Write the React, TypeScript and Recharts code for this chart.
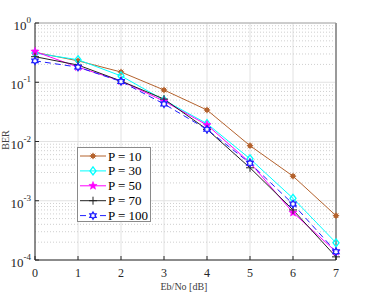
import React from "react";
import {
  LineChart,
  Line,
  XAxis,
  YAxis,
  CartesianGrid,
  ReferenceLine,
  Legend,
} from "recharts";

// Eb/No in dB
const ebno: number[] = [0, 1, 2, 3, 4, 5, 6, 7];

// BER curves
const berP10: number[] = [0.32, 0.23, 0.149, 0.074, 0.034, 0.0085, 0.0026, 0.00056];
const berP30: number[] = [0.31, 0.24, 0.128, 0.05, 0.02, 0.0051, 0.0011, 0.000195];
const berP50: number[] = [0.33, 0.18, 0.105, 0.048, 0.019, 0.0044, 0.00063, 0.000138];
const berP70: number[] = [0.27, 0.195, 0.105, 0.052, 0.016, 0.0036, 0.0007, 0.000113];
const berP100: number[] = [0.23, 0.18, 0.103, 0.043, 0.016, 0.0043, 0.00088, 0.000138];

const xTicks: number[] = [0, 1, 2, 3, 4, 5, 6, 7];
const yTicks: number[] = [1e-4, 1e-3, 1e-2, 1e-1, 1];

const minorTicks: number[] = [];
for (let d = -4; d < 0; d++) {
  for (let m = 2; m <= 9; m++) minorTicks.push(m * Math.pow(10, d));
}

const data = ebno.map((x, i) => ({
  x,
  p10: berP10[i],
  p30: berP30[i],
  p50: berP50[i],
  p70: berP70[i],
  p100: berP100[i],
}));

type Kind = "asterisk" | "diamond" | "pentagram" | "plus" | "hexagram";

const series: { key: string; name: string; color: string; kind: Kind; dash?: string }[] = [
  { key: "p10", name: "P = 10", color: "#b4622d", kind: "asterisk" },
  { key: "p30", name: "P = 30", color: "#00ffff", kind: "diamond" },
  { key: "p50", name: "P = 50", color: "#ff00ff", kind: "pentagram" },
  { key: "p70", name: "P = 70", color: "#222222", kind: "plus" },
  { key: "p100", name: "P = 100", color: "#1f1fff", kind: "hexagram", dash: "6 4" },
];

const serif = { fontFamily: "'Liberation Serif', 'Times New Roman', Times, serif" };

function starPoints(cx: number, cy: number, n: number, ro: number, ri: number) {
  const pts: string[] = [];
  for (let i = 0; i < n * 2; i++) {
    const r = i % 2 === 0 ? ro : ri;
    const a = -Math.PI / 2 + (i * Math.PI) / n;
    pts.push(`${cx + r * Math.cos(a)},${cy + r * Math.sin(a)}`);
  }
  return pts.join(" ");
}

function Marker({ cx, cy, color, kind }: { cx: number; cy: number; color: string; kind: Kind }) {
  if (cx == null || cy == null || isNaN(cx) || isNaN(cy)) return null;
  switch (kind) {
    case "asterisk":
      return (
        <g stroke={color} strokeWidth={1}>
          <circle cx={cx} cy={cy} r={2} fill={color} />
          <line x1={cx - 3.2} y1={cy} x2={cx + 3.2} y2={cy} />
          <line x1={cx} y1={cy - 3.2} x2={cx} y2={cy + 3.2} />
          <line x1={cx - 2.3} y1={cy - 2.3} x2={cx + 2.3} y2={cy + 2.3} />
          <line x1={cx - 2.3} y1={cy + 2.3} x2={cx + 2.3} y2={cy - 2.3} />
        </g>
      );
    case "diamond":
      return (
        <polygon
          points={`${cx},${cy - 4} ${cx + 3},${cy} ${cx},${cy + 4} ${cx - 3},${cy}`}
          fill="none"
          stroke={color}
          strokeWidth={1.3}
        />
      );
    case "pentagram":
      return <polygon points={starPoints(cx, cy, 5, 4.3, 1.8)} fill={color} stroke={color} strokeWidth={0.6} />;
    case "plus":
      return (
        <g stroke={color} strokeWidth={1}>
          <line x1={cx - 4} y1={cy} x2={cx + 4} y2={cy} />
          <line x1={cx} y1={cy - 4} x2={cx} y2={cy + 4} />
        </g>
      );
    case "hexagram":
      return <polygon points={starPoints(cx, cy, 6, 3.6, 2.1)} fill="#ffffff" stroke={color} strokeWidth={1.3} />;
  }
  return null;
}

function YTick(props: any) {
  const { x, y, payload } = props;
  const exp = Math.round(Math.log10(payload.value));
  return (
    <g>
      <line x1={x} y1={y} x2={x + 4} y2={y} stroke="#262626" />
      <text x={x - 4} y={y + 7} textAnchor="end" style={serif} fontSize={13} fill="#262626">
        10
        <tspan dy={-7} fontSize={9}>
          {exp}
        </tspan>
      </text>
    </g>
  );
}

function XTick(props: any) {
  const { x, y, payload } = props;
  return (
    <g>
      <line x1={x} y1={y} x2={x} y2={y - 4} stroke="#262626" />
      <text x={x} y={y + 17} textAnchor="middle" style={serif} fontSize={12} fill="#262626">
        {payload.value}
      </text>
    </g>
  );
}

function LegendBox() {
  return (
    <div
      style={{
        width: 74,
        height: 75,
        background: "#ffffff",
        border: "1px solid #8a8a8a",
        boxSizing: "border-box",
      }}
    >
      <svg width={72} height={73} style={{ display: "block", overflow: "visible" }}>
        {series.map((s, i) => {
          const y = 8 + i * 14.9;
          return (
            <g key={s.key}>
              <line x1={2} y1={y} x2={28} y2={y} stroke={s.color} strokeWidth={1} strokeDasharray={s.dash} />
              <Marker cx={15} cy={y} color={s.color} kind={s.kind} />
              <text x={30} y={y + 4.5} style={serif} fontSize={13} fill="#000">
                {s.name}
              </text>
            </g>
          );
        })}
      </svg>
    </div>
  );
}

export default function App() {
  return (
    <div style={{ position: "absolute", left: 0, top: 0, background: "#ffffff" }}>
      <LineChart width={374} height={300} data={data} margin={{ top: 23, right: 38, bottom: 0, left: 0 }}>
        <CartesianGrid stroke="#e2e2e2" strokeWidth={1} />
        {minorTicks.map((v) => (
          <ReferenceLine key={v} y={v} stroke="#cfcfcf" strokeDasharray="1 2" strokeWidth={1} />
        ))}
        <XAxis
          dataKey="x"
          type="number"
          domain={[0, 7]}
          ticks={xTicks}
          height={40}
          tickSize={0}
          tickMargin={0}
          stroke="#262626"
          tick={<XTick />}
          label={{
            content: () => (
              <text x={184} y={290} textAnchor="middle" style={serif} fontSize={10} fill="#404040">
                Eb/No [dB]
              </text>
            ),
          }}
        />
        <YAxis
          type="number"
          scale="log"
          domain={[1e-4, 1]}
          allowDataOverflow
          ticks={yTicks}
          width={35}
          tickSize={0}
          tickMargin={0}
          stroke="#262626"
          tick={<YTick />}
          label={{
            content: () => (
              <text
                x={7}
                y={140}
                textAnchor="middle"
                style={serif}
                fontSize={10}
                fill="#404040"
                transform="rotate(-90 7 140)"
                dominantBaseline="middle"
              >
                BER
              </text>
            ),
          }}
        />
        <ReferenceLine y={1} stroke="#a8a8a8" strokeWidth={1} />
        <ReferenceLine x={7} stroke="#9a9a9a" strokeWidth={2} />
        {series.map((s) => (
          <Line
            key={s.key}
            dataKey={s.key}
            name={s.name}
            stroke={s.color}
            strokeWidth={1}
            strokeDasharray={s.dash}
            isAnimationActive={false}
            dot={(p: any) => <Marker key={`${s.key}-${p.index}`} cx={p.cx} cy={p.cy} color={s.color} kind={s.kind} />}
            activeDot={false}
          />
        ))}
        <Legend
          layout="vertical"
          align="center"
          verticalAlign="middle"
          content={() => <LegendBox />}
          wrapperStyle={{ position: "absolute", left: 77, top: 147, width: 74, height: 75 }}
        />
      </LineChart>
    </div>
  );
}
